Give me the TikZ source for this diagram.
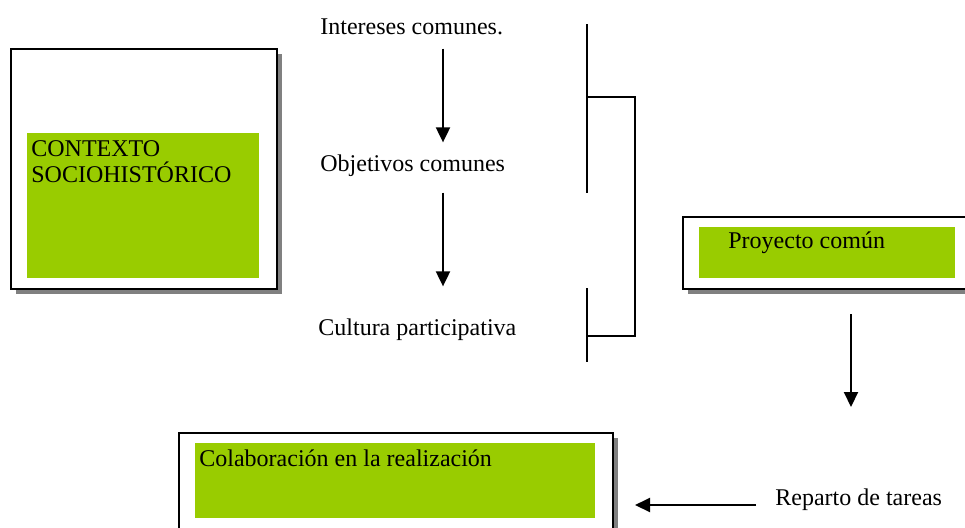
\documentclass[tikz,border=0pt]{standalone}
\usepackage{fontspec}
\setmainfont{Liberation Serif}
\usetikzlibrary{arrows.meta,shadows}
\definecolor{verde}{RGB}{153,204,0}
\definecolor{sombra}{RGB}{128,128,128}
\tikzset{
  marco/.style={draw=black, line width=1pt, fill=white, inner sep=0pt, anchor=north west,
    drop shadow={shadow xshift=2.5pt, shadow yshift=-2.5pt, fill=sombra, opacity=1}},
  fondo/.style={fill=verde, inner sep=0pt, anchor=north west},
  texto/.style={anchor=base west, inner sep=0pt, font=\fontsize{12}{12.5}\selectfont},
  flecha/.style={line width=1pt, -{Triangle[width=7pt,length=7.5pt]}},
  corchete/.style={line width=1pt}
}
\begin{document}
\begin{tikzpicture}[x=0.5pt,y=-0.5pt]%
\useasboundingbox (0,0) rectangle (965,527);%
\node[marco, minimum width=133pt, minimum height=120pt] (ctxmarco) at (10,48) {};%
\node[fondo, minimum width=116pt, minimum height=72.5pt] (ctxfondo) at (27,133) {};%
\node[texto] (contexto) at (31,156) {CONTEXTO};%
\node[texto] (sociohistorico) at (31,182) {SOCIOHISTÓRICO};%
\node[marco, minimum width=150pt, minimum height=36pt] (proymarco) at (682,216) {};%
\node[fondo, minimum width=128pt, minimum height=25.5pt] (proyfondo) at (699,227) {};%
\node[texto] (proyecto) at (728,248) {Proyecto común};%
\node[marco, minimum width=217pt, minimum height=60pt] (colmarco) at (178,432) {};%
\node[fondo, minimum width=200pt, minimum height=37.5pt] (colfondo) at (195,443) {};%
\node[texto] (colaboracion) at (199,466) {Colaboración en la realización};%
\node[texto] (intereses) at (320,34) {Intereses comunes.};%
\node[texto] (objetivos) at (320,171) {Objetivos comunes};%
\node[texto] (cultura) at (318,335) {Cultura participativa};%
\node[texto] (reparto) at (775,505) {Reparto de tareas};%
\coordinate (ejeA) at (443,0);%
\coordinate (ejeB) at (851,0);%
\coordinate (finB) at (851,407);%
\coordinate (finC) at (635,504);%
\draw[flecha, shorten <=7pt, shorten >=5.8pt] (intereses.south -| ejeA) -- (objetivos.north -| ejeA);%
\draw[flecha, shorten <=8pt, shorten >=15.8pt] (objetivos.south -| ejeA) -- (cultura.north -| ejeA);%
\draw[flecha, shorten <=12pt] (proymarco.south -| ejeB) -- (finB);%
\draw[flecha, shorten <=9.5pt] (reparto.base west) -- (reparto.base west -| finC);%
\draw[corchete] (587,24) -- (587,193);%
\draw[corchete] (587,288) -- (587,362);%
\draw[corchete] (587,97) -- (635,97) -- (635,336) -- (587,336);%
\end{tikzpicture}
\end{document}
